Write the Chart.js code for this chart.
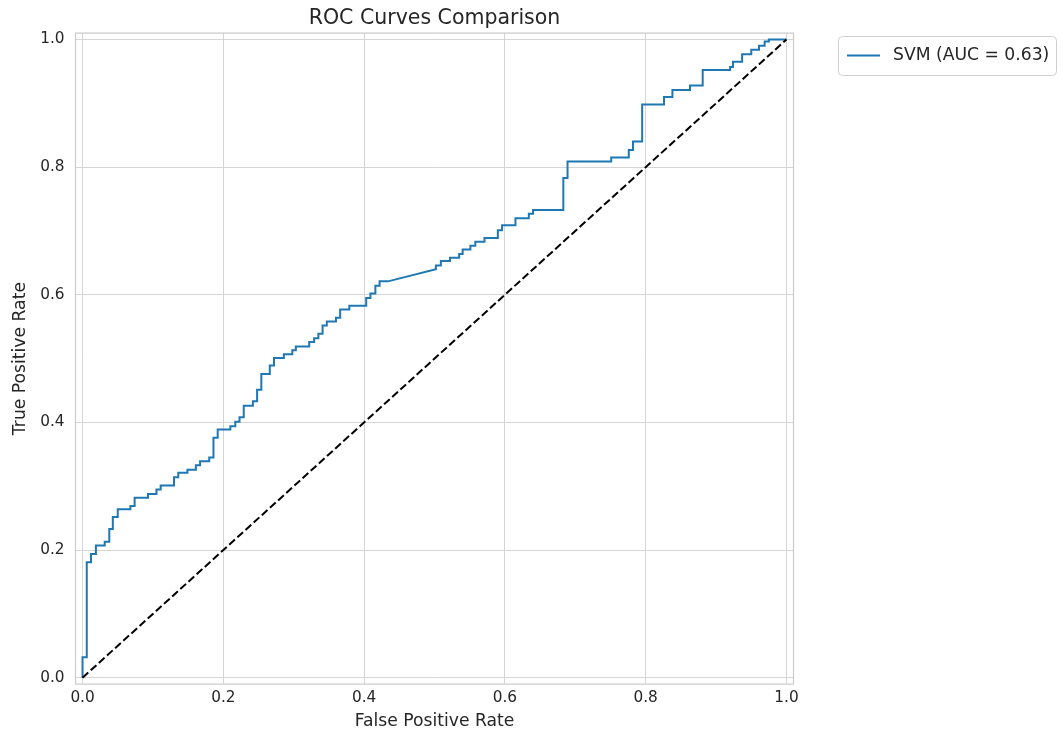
<!DOCTYPE html>
<html>
<head>
<meta charset="utf-8">
<script src="https://cdn.jsdelivr.net/npm/chart.js@4/dist/chart.umd.min.js"></script>
<style>
  html, body { margin: 0; padding: 0; background: #ffffff; }
  #wrap { width: 1063px; height: 734px; position: relative; }
</style>
</head>
<body>
<div id="wrap"><canvas id="roc"></canvas></div>
<script>
// ROC curve vertices for the SVM classifier (false positive rate, true positive rate)
const svmFpr = [
  0, 0, 0.006, 0.006, 0.012, 0.012, 0.019, 0.019, 0.0315, 0.0315,
  0.038, 0.038, 0.043, 0.043, 0.050, 0.050, 0.068, 0.068, 0.074, 0.074,
  0.093, 0.093, 0.105, 0.105, 0.111, 0.111, 0.130, 0.130, 0.136, 0.136,
  0.149, 0.149, 0.161, 0.161, 0.167, 0.167, 0.180, 0.180, 0.186, 0.186,
  0.192, 0.192, 0.210, 0.210, 0.217, 0.217, 0.223, 0.223, 0.229, 0.229,
  0.242, 0.242, 0.248, 0.248, 0.254, 0.254, 0.266, 0.266, 0.272, 0.272,
  0.286, 0.286, 0.298, 0.298, 0.303, 0.303, 0.322, 0.322, 0.329, 0.329,
  0.335, 0.335, 0.341, 0.341, 0.347, 0.347, 0.360, 0.360, 0.366, 0.366,
  0.379, 0.379, 0.403, 0.403, 0.409, 0.409, 0.416, 0.416, 0.422, 0.422,
  0.434, 0.502, 0.502, 0.509, 0.509, 0.522, 0.522, 0.535, 0.535, 0.540,
  0.540, 0.551, 0.551, 0.558, 0.558, 0.571, 0.571, 0.590, 0.590, 0.596,
  0.596, 0.615, 0.615, 0.634, 0.634, 0.640, 0.640, 0.683, 0.683, 0.689,
  0.689, 0.751, 0.751, 0.776, 0.776, 0.782, 0.782, 0.795, 0.795, 0.826,
  0.826, 0.838, 0.838, 0.863, 0.863, 0.881, 0.881, 0.920, 0.920, 0.924,
  0.924, 0.937, 0.937, 0.950, 0.950, 0.961, 0.961, 0.969, 0.969, 0.975,
  0.975, 1.0
];
const svmTpr = [
  0, 0.032, 0.032, 0.181, 0.181, 0.194, 0.194, 0.207, 0.207, 0.213,
  0.213, 0.233, 0.233, 0.252, 0.252, 0.264, 0.264, 0.269, 0.269, 0.282,
  0.282, 0.288, 0.288, 0.295, 0.295, 0.301, 0.301, 0.314, 0.314, 0.321,
  0.321, 0.326, 0.326, 0.333, 0.333, 0.339, 0.339, 0.345, 0.345, 0.376,
  0.376, 0.389, 0.389, 0.394, 0.394, 0.401, 0.401, 0.408, 0.408, 0.426,
  0.426, 0.433, 0.433, 0.451, 0.451, 0.476, 0.476, 0.489, 0.489, 0.501,
  0.501, 0.507, 0.507, 0.513, 0.513, 0.519, 0.519, 0.526, 0.526, 0.532,
  0.532, 0.539, 0.539, 0.552, 0.552, 0.558, 0.558, 0.564, 0.564, 0.577,
  0.577, 0.583, 0.583, 0.595, 0.595, 0.602, 0.602, 0.614, 0.614, 0.621,
  0.621, 0.640, 0.646, 0.646, 0.653, 0.653, 0.658, 0.658, 0.664, 0.664,
  0.671, 0.671, 0.677, 0.677, 0.683, 0.683, 0.689, 0.689, 0.701, 0.701,
  0.709, 0.709, 0.720, 0.720, 0.727, 0.727, 0.733, 0.733, 0.783, 0.783,
  0.809, 0.809, 0.815, 0.815, 0.827, 0.827, 0.840, 0.840, 0.898, 0.898,
  0.910, 0.910, 0.921, 0.921, 0.928, 0.928, 0.952, 0.952, 0.957, 0.957,
  0.965, 0.965, 0.977, 0.977, 0.984, 0.984, 0.990, 0.990, 0.997, 0.997,
  1.0, 1.0
];
const svmLabel = 'SVM (AUC = 0.63)';

// Chance line
const chanceX = [0, 1];
const chanceY = [0, 1];

// Tick values shared by both axes
const tickValues = [0, 0.2, 0.4, 0.6, 0.8, 1.0];

const chartTitle = 'ROC Curves Comparison';
const xTitle = 'False Positive Rate';
const yTitle = 'True Positive Rate';

const textColor = '#262626';
const gridColor = '#d5d5d5';
const fontFamily = '"DejaVu Sans", sans-serif';

const toPoints = (xs, ys) => xs.map((x, i) => ({ x: x, y: ys[i] }));

// Title centred over the plotting area, plus a framed legend to the right of it
const decorations = {
  id: 'decorations',
  beforeDatasetsDraw(chart) {
    const { ctx, chartArea: a } = chart;
    ctx.save();
    ctx.strokeStyle = '#cccccc';
    ctx.lineWidth = 1.25;
    ctx.strokeRect(a.left, a.top, a.right - a.left, a.bottom - a.top);
    ctx.restore();
  },
  afterDraw(chart) {
    const { ctx, chartArea: a } = chart;
    ctx.save();
    ctx.fillStyle = textColor;
    ctx.font = '20.5px ' + fontFamily;
    ctx.textAlign = 'center';
    ctx.textBaseline = 'middle';
    ctx.fillText(chartTitle, (a.left + a.right) / 2, 18.5);

    // legend frame
    const bx = 838.5, by = 36.5, bw = 218, bh = 39;
    ctx.beginPath();
    ctx.roundRect(bx, by, bw, bh, 4);
    ctx.fillStyle = 'rgba(255,255,255,0.8)';
    ctx.fill();
    ctx.strokeStyle = '#d0d0d0';
    ctx.lineWidth = 1;
    ctx.stroke();

    const ds = chart.data.datasets.find(d => d.label === svmLabel);
    ctx.beginPath();
    ctx.moveTo(847, 55.5);
    ctx.lineTo(880, 55.5);
    ctx.strokeStyle = ds.borderColor;
    ctx.lineWidth = ds.borderWidth;
    ctx.stroke();

    ctx.fillStyle = textColor;
    ctx.font = '17.2px ' + fontFamily;
    ctx.textAlign = 'left';
    ctx.textBaseline = 'middle';
    ctx.fillText(ds.label, 893, 56);
    ctx.restore();
  }
};

const setTicks = scale => { scale.ticks = tickValues.map(v => ({ value: v })); };

new Chart(document.getElementById('roc'), {
  type: 'scatter',
  data: {
    datasets: [
      {
        label: 'Chance',
        data: toPoints(chanceX, chanceY),
        showLine: true,
        borderColor: '#000000',
        borderWidth: 2,
        borderDash: [7.7, 3.3],
        pointRadius: 0,
        fill: false
      },
      {
        label: svmLabel,
        data: toPoints(svmFpr, svmTpr),
        showLine: true,
        borderColor: '#1f77b4',
        borderWidth: 2,
        pointRadius: 0,
        tension: 0,
        fill: false
      }
    ]
  },
  options: {
    responsive: true,
    maintainAspectRatio: false,
    animation: false,
    devicePixelRatio: 1,
    layout: { padding: { top: 33.1, right: 269.5, left: 0, bottom: 0 } },
    plugins: {
      legend: { display: false },
      title: { display: false },
      tooltip: { enabled: false }
    },
    scales: {
      x: {
        type: 'linear',
        min: -0.01,
        max: 1.01,
        afterBuildTicks: setTicks,
        afterFit: s => { s.height = 49.9; },
        border: { display: false },
        grid: { color: gridColor, lineWidth: 1, drawTicks: false },
        ticks: {
          padding: 5,
          color: textColor,
          font: { family: fontFamily, size: 15.3 },
          callback: v => Number(v).toFixed(1),
          maxRotation: 0
        },
        title: {
          display: true,
          text: xTitle,
          color: textColor,
          font: { family: fontFamily, size: 17.2 },
          padding: { top: 0, bottom: 2 }
        }
      },
      y: {
        type: 'linear',
        min: -0.01,
        max: 1.01,
        afterBuildTicks: setTicks,
        afterFit: s => { s.width = 75.5; },
        border: { display: false },
        grid: { color: gridColor, lineWidth: 1, drawTicks: false },
        ticks: {
          padding: 11,
          color: textColor,
          font: { family: fontFamily, size: 15.3 },
          callback: v => Number(v).toFixed(1)
        },
        title: {
          display: true,
          text: yTitle,
          color: textColor,
          font: { family: fontFamily, size: 17.2 },
          padding: { top: 10, bottom: 0 }
        }
      }
    }
  },
  plugins: [decorations]
});
</script>
</body>
</html>
